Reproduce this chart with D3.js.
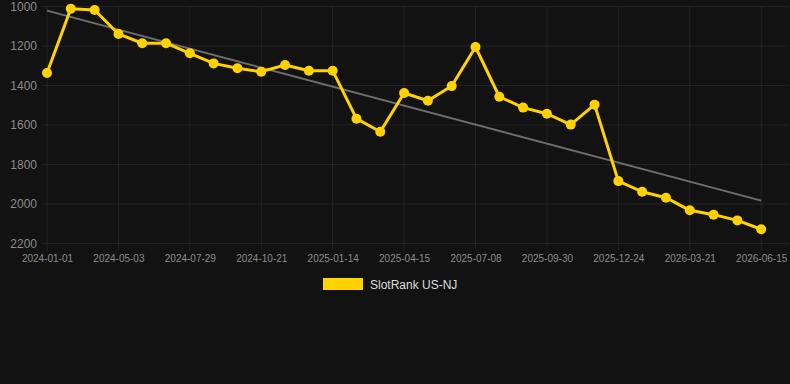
<!DOCTYPE html>
<html>
<head>
<meta charset="utf-8">
<script src="https://cdn.jsdelivr.net/npm/d3@7"></script>
<style>
  html, body { margin: 0; padding: 0; background: #121212; }
  svg { display: block; }
</style>
</head>
<body>
<script>
// ---- data ----
const dates = [
  "2024-01-01","2024-02-12","2024-03-24","2024-05-03","2024-06-01","2024-06-30",
  "2024-07-29","2024-08-26","2024-09-23","2024-10-21","2024-11-18","2024-12-16",
  "2025-01-14","2025-02-13","2025-03-16","2025-04-15","2025-05-13","2025-06-10",
  "2025-07-08","2025-08-05","2025-09-02","2025-09-30","2025-10-28","2025-11-26",
  "2025-12-24","2026-01-22","2026-02-20","2026-03-21","2026-04-19","2026-05-17",
  "2026-06-15"
];
const ranks = [
  1337, 1011, 1018, 1139, 1186, 1186, 1237, 1288, 1313, 1330, 1296,
  1325, 1325, 1568, 1634, 1438, 1477, 1403, 1205, 1457, 1512, 1543,
  1598, 1497, 1884, 1938, 1968, 2032, 2054, 2083, 2128
];
const trendValues = [1021, 1983]; // trend line at first and last date
const yTicks = [1000, 1200, 1400, 1600, 1800, 2000, 2200];
const seriesName = "SlotRank US-NJ";

// ---- layout ----
const W = 790, H = 384;
const mLeft = 47, mRight = 785, mTop = 6.5, mBottom = 243.5;
const lineColor = "#FFD200";

const svg = d3.select("body").append("svg").attr("width", W).attr("height", H);
svg.append("rect").attr("width", W).attr("height", H).attr("fill", "#121212");

const x = d3.scaleLinear().domain([0, dates.length]).range([mLeft, mRight]);
const y = d3.scaleLinear().domain([1000, 2200]).range([mTop, mBottom]);

const gridColor = "rgba(255,255,255,0.07)";

// horizontal grid
svg.append("g").selectAll("line").data(yTicks).join("line")
  .attr("x1", mLeft - 5).attr("x2", 788)
  .attr("y1", d => y(d)).attr("y2", d => y(d))
  .attr("stroke", gridColor).attr("stroke-width", 1);

// vertical grid at labelled ticks
const tickIdx = d3.range(0, dates.length, 3);
svg.append("g").selectAll("line").data(tickIdx).join("line")
  .attr("x1", d => x(d)).attr("x2", d => x(d))
  .attr("y1", mTop).attr("y2", mBottom + 7)
  .attr("stroke", gridColor).attr("stroke-width", 1);

// y axis labels
const yAxis = d3.axisLeft(y).tickValues(yTicks).tickFormat(d3.format("d")).tickSize(0).tickPadding(0);
const gy = svg.append("g").attr("transform", `translate(${mLeft - 10},0)`).call(yAxis);
gy.select(".domain").remove();
gy.selectAll("text").attr("fill", "#8c8c8c").attr("font-size", "12px")
  .attr("font-family", "Liberation Sans, Arial, sans-serif");

// x axis labels
const xAxis = d3.axisBottom(x).tickValues(tickIdx).tickFormat(i => dates[i]).tickSize(0).tickPadding(0);
const gx = svg.append("g").attr("transform", `translate(0,${mBottom + 11})`).call(xAxis);
gx.select(".domain").remove();
gx.selectAll("text").attr("fill", "#8c8c8c").attr("font-size", "10px")
  .attr("font-family", "Liberation Sans, Arial, sans-serif");

// trend line
svg.append("line")
  .attr("x1", x(0)).attr("y1", y(trendValues[0]))
  .attr("x2", x(dates.length - 1)).attr("y2", y(trendValues[1]))
  .attr("stroke", "#6e6e6e").attr("stroke-width", 2);

// series line
const line = d3.line().x((d, i) => x(i)).y(d => y(d));
svg.append("path").datum(ranks)
  .attr("d", line).attr("fill", "none")
  .attr("stroke", lineColor).attr("stroke-width", 3).attr("stroke-linejoin", "round");

svg.append("g").selectAll("circle").data(ranks).join("circle")
  .attr("cx", (d, i) => x(i)).attr("cy", d => y(d)).attr("r", 5)
  .attr("fill", lineColor);

// legend
const lg = svg.append("g");
lg.append("rect").attr("x", 323).attr("y", 278).attr("width", 40).attr("height", 12).attr("fill", lineColor);
lg.append("text").attr("x", 370).attr("y", 288.5).text(seriesName)
  .attr("fill", "#dddddd").attr("font-size", "12px")
  .attr("font-family", "Liberation Sans, Arial, sans-serif");
</script>
</body>
</html>
